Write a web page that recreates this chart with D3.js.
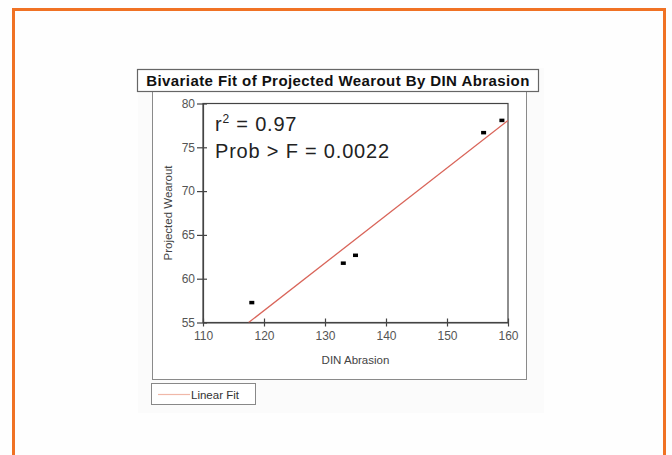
<!DOCTYPE html>
<html>
<head>
<meta charset="utf-8">
<script src="https://cdn.jsdelivr.net/npm/d3@7"></script>
<style>
  html, body { margin: 0; padding: 0; background: #fefefe; }
  svg { display: block; font-family: "Liberation Sans", Arial, sans-serif; }
</style>
</head>
<body>
<svg id="chart" width="672" height="455"></svg>
<script>
// Observations: DIN abrasion vs projected wearout
const dinAbrasion = [118, 133, 135, 156, 159];
const projectedWearout = [57.3, 61.8, 62.7, 76.7, 78.1];
const xTicks = [110, 120, 130, 140, 150, 160];
const yTicks = [55, 60, 65, 70, 75, 80];
const statsLines = ["r² = 0.97", "Prob > F = 0.0022"];

const svg = d3.select("#chart");

// Orange page frame (open at the bottom)
svg.append("path")
  .attr("d", "M13.5,455 V9.5 H664.5 V455")
  .attr("fill", "none")
  .attr("stroke", "#f07224")
  .attr("stroke-width", 3);

// Faint backdrop behind the report
svg.append("rect")
  .attr("x", 138).attr("y", 68).attr("width", 406).attr("height", 345)
  .attr("fill", "#fbfbfb");

// Report outline
svg.append("rect")
  .attr("x", 152.5).attr("y", 91.5).attr("width", 374).attr("height", 288)
  .attr("fill", "#ffffff").attr("stroke", "#8a8a8a").attr("stroke-width", 1);

// Title box
svg.append("rect")
  .attr("x", 137.5).attr("y", 69.5).attr("width", 401).attr("height", 22)
  .attr("fill", "#ffffff").attr("stroke", "#666").attr("stroke-width", 1.2);
svg.append("text")
  .attr("x", 338).attr("y", 86)
  .attr("text-anchor", "middle")
  .attr("font-size", 15).attr("font-weight", "bold").attr("fill", "#111")
  .attr("letter-spacing", 0.42)
  .text("Bivariate Fit of Projected Wearout By DIN Abrasion");

// Plot geometry
const plotLeft = 203, plotRight = 508, plotTop = 103.5, plotBottom = 322.5;
const x = d3.scaleLinear().domain([110, 160]).range([plotLeft, plotRight]);
const y = d3.scaleLinear().domain([55, 80]).range([plotBottom, plotTop]);

const plot = svg.append("g");
plot.append("rect")
  .attr("x", plotLeft).attr("y", plotTop)
  .attr("width", plotRight - plotLeft).attr("height", plotBottom - plotTop)
  .attr("fill", "#fff").attr("stroke", "#444").attr("stroke-width", 1.2);

// Axes
const xAxis = plot.append("g")
  .attr("transform", `translate(0,${plotBottom})`)
  .call(d3.axisBottom(x).tickValues(xTicks).tickSize(6).tickPadding(3).tickSizeOuter(0));
const yAxis = plot.append("g")
  .attr("transform", `translate(${plotLeft},0)`)
  .call(d3.axisLeft(y).tickValues(yTicks).tickSize(6).tickPadding(2).tickSizeOuter(0));

[xAxis, yAxis].forEach(a => {
  a.select(".domain").attr("stroke", "#444").attr("stroke-width", 1.2);
  a.selectAll(".tick line").attr("stroke", "#444").attr("stroke-width", 1.2);
  a.selectAll(".tick text")
    .attr("fill", "#555").attr("font-size", 12)
    .attr("font-family", "Liberation Sans, Arial, sans-serif");
});
// Ticks straddle the axis line
xAxis.selectAll(".tick line").attr("y1", -4).attr("y2", 4);
yAxis.selectAll(".tick line").attr("x1", -6).attr("x2", 4);

// Axis titles
svg.append("text")
  .attr("x", x(135)).attr("y", 364)
  .attr("text-anchor", "middle").attr("font-size", 11.5).attr("fill", "#444")
  .text("DIN Abrasion");
svg.append("text")
  .attr("transform", `translate(172,${(plotTop + plotBottom) / 2}) rotate(-90)`)
  .attr("text-anchor", "middle").attr("font-size", 11.5).attr("fill", "#444")
  .text("Projected Wearout");

// Least-squares line fitted to the observations
const n = dinAbrasion.length;
const mx = d3.mean(dinAbrasion), my = d3.mean(projectedWearout);
let sxy = 0, sxx = 0;
for (let i = 0; i < n; i++) {
  sxy += (dinAbrasion[i] - mx) * (projectedWearout[i] - my);
  sxx += (dinAbrasion[i] - mx) ** 2;
}
const slope = sxy / sxx, intercept = my - slope * mx;
const xStart = Math.max(110, (55 - intercept) / slope);
const xEnd = Math.min(160, (80 - intercept) / slope);

svg.append("clipPath").attr("id", "plotClip")
  .append("rect")
  .attr("x", plotLeft).attr("y", plotTop)
  .attr("width", plotRight - plotLeft).attr("height", plotBottom - plotTop);

plot.append("line")
  .attr("clip-path", "url(#plotClip)")
  .attr("x1", x(xStart)).attr("y1", y(intercept + slope * xStart))
  .attr("x2", x(xEnd)).attr("y2", y(intercept + slope * xEnd))
  .attr("stroke", "#d9655a").attr("stroke-width", 1.3);

// Markers
plot.selectAll("rect.pt")
  .data(d3.zip(dinAbrasion, projectedWearout))
  .join("rect")
  .attr("class", "pt")
  .attr("x", d => x(d[0]) - 2.5).attr("y", d => y(d[1]) - 1.5)
  .attr("width", 5).attr("height", 3.5)
  .attr("fill", "#000");

// Fit statistics
svg.append("text")
  .attr("x", 215).attr("y", 131)
  .attr("font-size", 20).attr("letter-spacing", 0.8).attr("fill", "#222")
  .call(t => {
    t.append("tspan").text("r");
    t.append("tspan").attr("font-size", 12).attr("dy", -8).text("2");
    t.append("tspan").attr("dy", 8).text(" = 0.97");
  });
svg.append("text")
  .attr("x", 215).attr("y", 158)
  .attr("font-size", 20).attr("letter-spacing", 0.8).attr("fill", "#222")
  .text(statsLines[1]);

// Legend
svg.append("rect")
  .attr("x", 151.5).attr("y", 383.5).attr("width", 104).attr("height", 21)
  .attr("fill", "#fff").attr("stroke", "#888").attr("stroke-width", 1);
svg.append("line")
  .attr("x1", 158).attr("x2", 190).attr("y1", 394.5).attr("y2", 394.5)
  .attr("stroke", "#f0b8a8").attr("stroke-width", 1.2);
svg.append("text")
  .attr("x", 191).attr("y", 399)
  .attr("font-size", 11.5).attr("fill", "#333")
  .text("Linear Fit");
</script>
</body>
</html>
